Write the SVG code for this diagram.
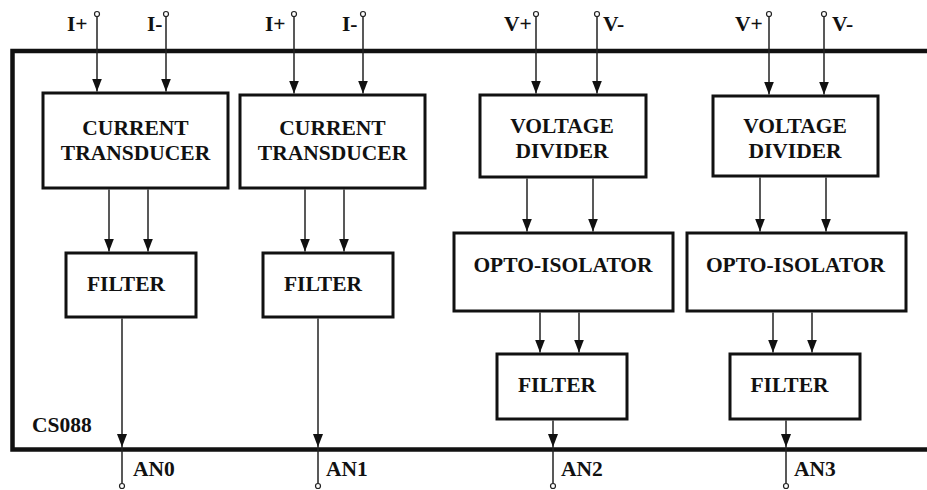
<svg xmlns="http://www.w3.org/2000/svg" width="927" height="490" viewBox="0 0 927 490">
<style>
.blk{fill:#fff;stroke:#111;stroke-width:3}
.lbl{font-family:"Liberation Serif","Times New Roman",serif;font-weight:bold;font-size:21.5px;fill:#111}
.mid{text-anchor:middle}
.wire{stroke:#222;stroke-width:1.5;fill:none}
.arr{stroke:#222;stroke-width:1.5;fill:none;marker-end:url(#ah)}
.term{fill:#fff;stroke:#222;stroke-width:1.2}
</style>
<defs>
<marker id="ah" markerUnits="userSpaceOnUse" markerWidth="13" markerHeight="10" viewBox="0 0 13 10" refX="13" refY="5" orient="auto">
<path d="M0,0 L13,5 L0,10 z" fill="#111"/>
</marker>
</defs>
<rect width="927" height="490" fill="#fff"/>
<g id="chip">
<rect x="12.5" y="51" width="930" height="398.5" fill="none" stroke="#111" stroke-width="4.5"/>
<text class="lbl" x="32" y="432">CS088</text>
</g>
<g id="connectors">
<path class="arr" d="M97,16.5 V91.5"/>
<path class="arr" d="M166,16.5 V91.5"/>
<path class="arr" d="M294,16.5 V93.5"/>
<path class="arr" d="M363,16.5 V93.5"/>
<path class="arr" d="M536,16.5 V93.5"/>
<path class="arr" d="M597,16.5 V93.5"/>
<path class="arr" d="M769,16.5 V94.5"/>
<path class="arr" d="M824,16.5 V94.5"/>
<path class="arr" d="M109,189.5 V251.5"/>
<path class="arr" d="M148,189.5 V251.5"/>
<path class="arr" d="M305,189.5 V251.5"/>
<path class="arr" d="M344,189.5 V251.5"/>
<path class="arr" d="M527,178.5 V231.5"/>
<path class="arr" d="M593,178.5 V231.5"/>
<path class="arr" d="M760,177.5 V231.5"/>
<path class="arr" d="M826,177.5 V231.5"/>
<path class="arr" d="M540,312.5 V352.5"/>
<path class="arr" d="M579,312.5 V352.5"/>
<path class="arr" d="M773,312.5 V352.5"/>
<path class="arr" d="M812,312.5 V352.5"/>
<path class="arr" d="M122,318.5 V447"/>
<path class="arr" d="M318,318.5 V447"/>
<path class="arr" d="M553,420.5 V447"/>
<path class="arr" d="M786,420.5 V447"/>
<path class="wire" d="M122,447 V483.5"/>
<path class="wire" d="M318,447 V483.5"/>
<path class="wire" d="M553,447 V483.5"/>
<path class="wire" d="M786,447 V483.5"/>
</g>
<g id="terminals">
<circle class="term" cx="97" cy="14" r="2.5"/>
<circle class="term" cx="166" cy="14" r="2.5"/>
<circle class="term" cx="294" cy="14" r="2.5"/>
<circle class="term" cx="363" cy="14" r="2.5"/>
<circle class="term" cx="536" cy="14" r="2.5"/>
<circle class="term" cx="597" cy="14" r="2.5"/>
<circle class="term" cx="769" cy="14" r="2.5"/>
<circle class="term" cx="824" cy="14" r="2.5"/>
<circle class="term" cx="122" cy="486" r="2.5"/>
<circle class="term" cx="318" cy="486" r="2.5"/>
<circle class="term" cx="553" cy="486" r="2.5"/>
<circle class="term" cx="786" cy="486" r="2.5"/>
<text class="lbl" x="67" y="31">I+</text>
<text class="lbl" x="147" y="31">I-</text>
<text class="lbl" x="265" y="31">I+</text>
<text class="lbl" x="342" y="31">I-</text>
<text class="lbl" x="504" y="31">V+</text>
<text class="lbl" x="603" y="31">V-</text>
<text class="lbl" x="735" y="31">V+</text>
<text class="lbl" x="832" y="31">V-</text>
<text class="lbl" x="133" y="476">AN0</text>
<text class="lbl" x="326" y="476">AN1</text>
<text class="lbl" x="561" y="476">AN2</text>
<text class="lbl" x="794" y="476">AN3</text>
</g>
<g id="ct1">
<rect class="blk" x="43" y="93" width="185" height="95"/>
<text class="lbl mid" x="135.5" y="135">CURRENT</text>
<text class="lbl mid" x="135.5" y="160">TRANSDUCER</text>
</g>
<g id="ct2">
<rect class="blk" x="240" y="95" width="185" height="93"/>
<text class="lbl mid" x="332.5" y="135">CURRENT</text>
<text class="lbl mid" x="332.5" y="160">TRANSDUCER</text>
</g>
<g id="f1">
<rect class="blk" x="66" y="253" width="130" height="64"/>
<text class="lbl mid" x="126" y="291">FILTER</text>
</g>
<g id="f2">
<rect class="blk" x="263" y="253" width="130" height="64"/>
<text class="lbl mid" x="323" y="291">FILTER</text>
</g>
<g id="vd1">
<rect class="blk" x="480" y="95" width="166" height="82"/>
<text class="lbl mid" x="562" y="133">VOLTAGE</text>
<text class="lbl mid" x="562" y="158">DIVIDER</text>
</g>
<g id="vd2">
<rect class="blk" x="713" y="96" width="165" height="80"/>
<text class="lbl mid" x="795" y="133">VOLTAGE</text>
<text class="lbl mid" x="795" y="158">DIVIDER</text>
</g>
<g id="opto1">
<rect class="blk" x="454" y="233" width="219" height="78"/>
<text class="lbl mid" x="563" y="272">OPTO-ISOLATOR</text>
</g>
<g id="opto2">
<rect class="blk" x="687" y="233" width="219" height="78"/>
<text class="lbl mid" x="795.5" y="272">OPTO-ISOLATOR</text>
</g>
<g id="f3">
<rect class="blk" x="497" y="354" width="130" height="65"/>
<text class="lbl mid" x="557" y="392">FILTER</text>
</g>
<g id="f4">
<rect class="blk" x="730" y="354" width="130" height="65"/>
<text class="lbl mid" x="789.5" y="392">FILTER</text>
</g>
</svg>
